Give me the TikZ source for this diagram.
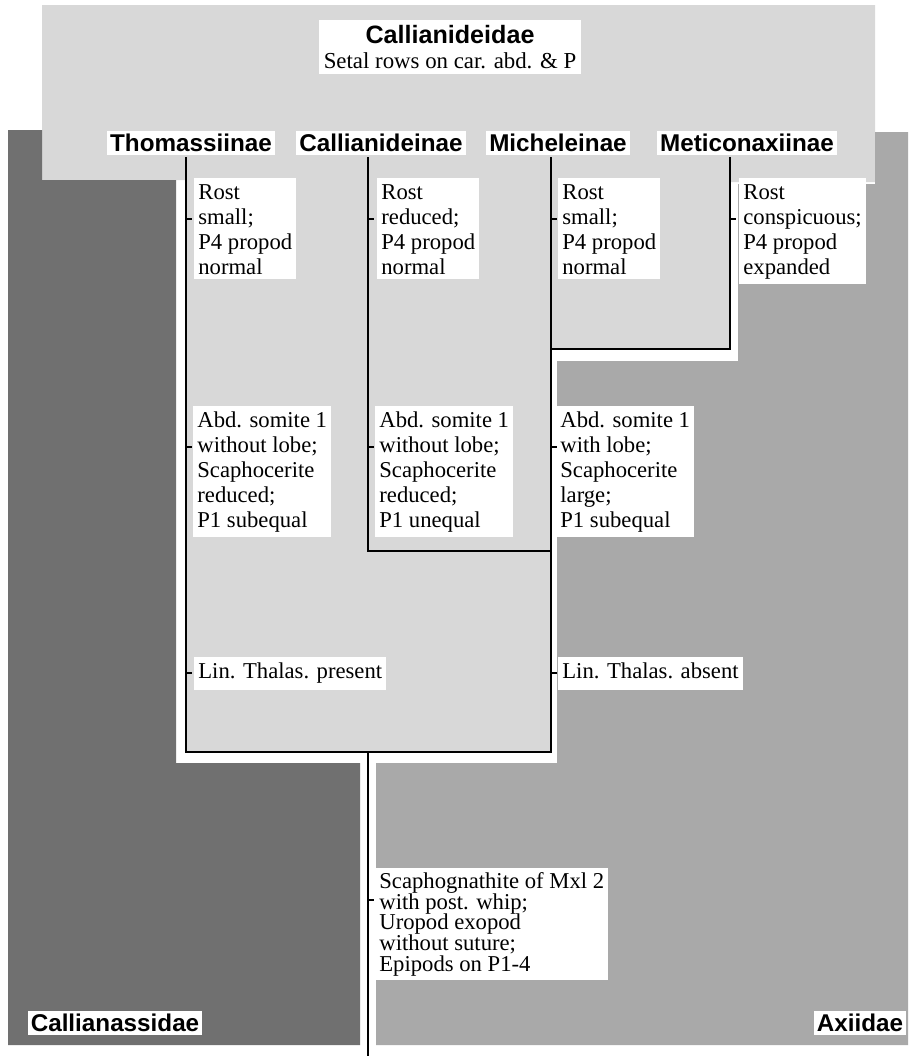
\documentclass[tikz,border=0pt]{standalone}
\usepackage{fontspec}
\setmainfont{Liberation Serif}
\newfontfamily\taxonsans{Liberation Sans}
\usepackage{xcolor}
\definecolor{callianideidfill}{HTML}{D8D8D8}
\definecolor{callianassidfill}{HTML}{707070}
\definecolor{axiidfill}{HTML}{A9A9A9}
\newcommand\traitfont{\fontsize{12.9}{14.2}\selectfont}
\newcommand\taxonfont{\taxonsans\bfseries\fontsize{13.8}{16}\selectfont}

\begin{document}
\begin{tikzpicture}[
  x=0.02cm, y=-0.02cm,
  branch/.style={line width=1.1pt},
  tickmark/.style={line width=0.8pt},
  taxon/.style={fill=white,inner sep=1.8pt,font=\taxonfont},
  trait/.style={fill=white,inner sep=2.3pt,align=left,anchor=north west,font=\traitfont}
]
  \path[use as bounding box,fill=white] (0,0) rectangle (910,1056);
  % family areas
  \fill[callianideidfill] (42,5) -- (875,5) -- (875,182) -- (730,182) -- (730,349)
    -- (551,349) -- (551,752) -- (186,752) -- (186,180) -- (42,180) -- cycle;
  \fill[callianassidfill] (8,130) -- (42,130) -- (42,180) -- (176,180) -- (176,763)
    -- (360,763) -- (360,1045) -- (8,1045) -- cycle;
  \fill[axiidfill] (875,132) -- (908,132) -- (908,1045) -- (376,1045) -- (376,763)
    -- (557,763) -- (557,361) -- (738,361) -- (738,184) -- (875,184) -- cycle;

  % family and subfamily names
  \node[fill=white,inner sep=2.8pt,align=center,anchor=north,
    font=\fontsize{13}{14.5}\selectfont] (callianideidae) at (450,20)
    {{\taxonsans\bfseries\fontsize{14.3}{16}\selectfont Callianideidae}\\
     Setal rows on car. abd. \& P};
  \node[taxon] (thomassiinae) at (191,143) {Thomassiinae};
  \node[taxon] (callianideinae) at (381,143) {Callianideinae};
  \node[taxon] (micheleinae) at (558,143) {Micheleinae};
  \node[taxon] (meticonaxiinae) at (747,143) {Meticonaxiinae};
  \node[taxon] (callianassidae) at (115,1023) {Callianassidae};
  \node[taxon] (axiidae) at (860,1023) {Axiidae};

  % branches
  \coordinate (thoTop) at (186,157);
  \coordinate (calTop) at (368,157);
  \coordinate (micTop) at (551,157);
  \coordinate (metTop) at (730,157);
  \coordinate (metBase) at (730,349);
  \coordinate (micMet) at (551,349);
  \coordinate (calBase) at (368,551);
  \coordinate (calJoin) at (551,551);
  \coordinate (thoBase) at (186,752);
  \coordinate (root) at (368,752);
  \coordinate (rootEnd) at (368,1056);
  \draw[branch] (thoTop) -- (thoBase) -| (micTop);
  \draw[branch] (calTop) -- (calBase) -- (calJoin);
  \draw[branch] (metTop) -- (metBase) -- (micMet);
  \draw[branch] (root) -- (rootEnd);

  % characters
  \node[trait] (rostTho) at (194,178) {\strut Rost\\small;\\P4 propod\\normal};
  \node[trait] (rostCal) at (377,178) {\strut Rost\\reduced;\\P4 propod\\normal};
  \node[trait] (rostMic) at (558,178) {\strut Rost\\small;\\P4 propod\\normal};
  \node[trait] (rostMet) at (739,178) {\strut Rost\\conspicuous;\\P4 propod\\expanded};
  \node[trait] (abdTho) at (193,406)
    {\strut Abd. somite 1\\without lobe;\\Scaphocerite\\reduced;\\P1 subequal};
  \node[trait] (abdCal) at (375,406)
    {\strut Abd. somite 1\\without lobe;\\Scaphocerite\\reduced;\\P1 unequal};
  \node[trait] (abdMic) at (556,406)
    {\strut Abd. somite 1\\with lobe;\\Scaphocerite\\large;\\P1 subequal};
  \node[trait] (linTho) at (194,657) {\strut Lin. Thalas. present};
  \node[trait] (linMic) at (558,657) {\strut Lin. Thalas. absent};
  \node[trait,font=\fontsize{12.9}{11.8}\selectfont] (scaph) at (375,868)
    {\rule{0pt}{8.26pt}Scaphognathite of Mxl 2\\with post. whip;\\Uropod exopod\\without suture;\\Epipods on P1-4};
  \foreach \n/\b/\dy in {rostTho/thoTop/41,rostCal/calTop/41,rostMic/micTop/41,
      rostMet/metTop/41,abdTho/thoTop/41,abdCal/calTop/41,abdMic/micTop/41,
      linTho/thoTop/16,linMic/micTop/16,scaph/root/32}
    \draw[tickmark] (\b |- \n.north) ++(0,\dy) -- ++(6,0);
\end{tikzpicture}
\end{document}
